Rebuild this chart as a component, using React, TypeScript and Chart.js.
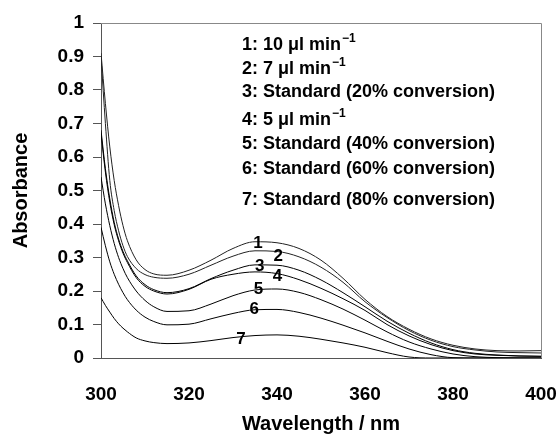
import React, { useEffect, useRef } from "react";
import { Chart, registerables } from "chart.js";

Chart.register(...registerables);

// Wavelength grid (nm)
const wavelengths = [300, 301, 302, 303, 304, 305, 306, 308, 310, 312, 315, 320, 325, 330, 335, 340, 345, 350, 355, 360, 365, 370, 375, 380, 385, 390, 395, 400];

// Absorbance series
const curve1 = [0.91, 0.76, 0.63, 0.53, 0.455, 0.395, 0.35, 0.293, 0.264, 0.251, 0.247, 0.262, 0.292, 0.327, 0.347, 0.344, 0.327, 0.292, 0.238, 0.175, 0.124, 0.086, 0.057, 0.038, 0.027, 0.022, 0.021, 0.022];
const curve2 = [0.9, 0.7, 0.53, 0.44, 0.38, 0.335, 0.303, 0.267, 0.249, 0.241, 0.238, 0.25, 0.277, 0.304, 0.32, 0.318, 0.302, 0.271, 0.226, 0.168, 0.121, 0.082, 0.053, 0.034, 0.024, 0.018, 0.016, 0.015];
const curve3 = [0.68, 0.565, 0.475, 0.405, 0.355, 0.318, 0.29, 0.245, 0.219, 0.204, 0.195, 0.207, 0.237, 0.262, 0.278, 0.277, 0.262, 0.233, 0.195, 0.153, 0.11, 0.074, 0.045, 0.025, 0.014, 0.009, 0.006, 0.005];
const curve4 = [0.67, 0.555, 0.465, 0.398, 0.35, 0.313, 0.285, 0.24, 0.214, 0.2, 0.191, 0.205, 0.235, 0.25, 0.257, 0.252, 0.234, 0.208, 0.177, 0.142, 0.1, 0.066, 0.04, 0.022, 0.012, 0.008, 0.006, 0.005];
const curve5 = [0.54, 0.46, 0.395, 0.342, 0.3, 0.267, 0.24, 0.2, 0.172, 0.153, 0.139, 0.141, 0.161, 0.186, 0.203, 0.206, 0.196, 0.174, 0.146, 0.113, 0.078, 0.048, 0.027, 0.012, 0.004, 0.001, 0, 0];
const curve6 = [0.39, 0.335, 0.287, 0.25, 0.22, 0.195, 0.174, 0.143, 0.122, 0.109, 0.099, 0.101, 0.117, 0.133, 0.144, 0.145, 0.136, 0.119, 0.098, 0.075, 0.05, 0.027, 0.01, 0.001, 0, 0, 0, 0];
const curve7 = [0.18, 0.157, 0.137, 0.118, 0.102, 0.089, 0.078, 0.06, 0.051, 0.046, 0.043, 0.045, 0.052, 0.061, 0.067, 0.069, 0.065, 0.056, 0.045, 0.032, 0.016, 0.003, 0, 0, 0, 0, 0, 0];

const allCurves = [curve1, curve2, curve3, curve4, curve5, curve6, curve7];

// Curve number labels (text + anchor in data coordinates)
const curveLabels = ["1", "2", "3", "4", "5", "6", "7"];
const curveLabelWl = [335.7, 340.3, 336.1, 340.1, 335.8, 334.8, 331.8];
const curveLabelAbs = [0.341, 0.303, 0.273, 0.244, 0.204, 0.144, 0.055];

// Key text
const keyText = [
  "1: 10 \u03bcl min",
  "2: 7 \u03bcl min",
  "3: Standard (20% conversion)",
  "4: 5 \u03bcl min",
  "5: Standard (40% conversion)",
  "6: Standard (60% conversion)",
  "7: Standard (80% conversion)",
];
const keySup = ["\u22121", "\u22121", "", "\u22121", "", "", ""];

const xTitle = "Wavelength / nm";
const yTitle = "Absorbance";

const FONT = '"Liberation Sans", Arial, Helvetica, sans-serif';

export default function App() {
  const ref = useRef<HTMLCanvasElement | null>(null);

  useEffect(() => {
    if (!ref.current) return;

    const overlay = {
      id: "overlay",
      afterDraw(chart: any) {
        const { ctx, chartArea: ca, scales } = chart;
        ctx.save();
        // frame (top and right)
        ctx.strokeStyle = "#888";
        ctx.lineWidth = 1;
        ctx.beginPath();
        ctx.moveTo(ca.left, Math.round(ca.top) + 0.5);
        ctx.lineTo(Math.round(ca.right) + 0.5, Math.round(ca.top) + 0.5);
        ctx.lineTo(Math.round(ca.right) + 0.5, ca.bottom);
        ctx.stroke();

        // curve number labels
        ctx.fillStyle = "#000";
        ctx.font = `bold 17px ${FONT}`;
        ctx.textAlign = "center";
        ctx.textBaseline = "middle";
        curveLabels.forEach((t, i) => {
          const px = scales.x.getPixelForValue(curveLabelWl[i]);
          const py = scales.y.getPixelForValue(curveLabelAbs[i]);
          ctx.fillText(t, px, py);
        });

        // key text
        const keyX = ca.left + 141;
        const baselines = [50, 74, 97, 125, 149, 174, 205];
        ctx.textAlign = "left";
        ctx.textBaseline = "alphabetic";
        keyText.forEach((t, i) => {
          ctx.font = `bold 18px ${FONT}`;
          ctx.fillText(t, keyX, baselines[i]);
          if (keySup[i]) {
            const w = ctx.measureText(t).width;
            ctx.font = `bold 12px ${FONT}`;
            ctx.fillText(keySup[i], keyX + w + 1, baselines[i] - 8);
          }
        });
        ctx.restore();
      },
    };

    const chart = new Chart(ref.current, {
      type: "line",
      data: {
        datasets: allCurves.map((c, i) => ({
          label: curveLabels[i],
          data: c.map((v, j) => ({ x: wavelengths[j], y: v })),
          borderColor: i < 2 ? "#222" : "#000",
          borderWidth: 1,
          pointRadius: 0,
          fill: false,
          cubicInterpolationMode: "monotone" as const,
        })),
      },
      options: {
        animation: false,
        responsive: false,
        devicePixelRatio: 1,
        layout: { padding: { left: 0, top: 23, right: 19, bottom: 0 } },
        plugins: {
          legend: { display: false },
          tooltip: { enabled: false },
        },
        scales: {
          x: {
            type: "linear",
            min: 300,
            max: 400,
            ticks: {
              stepSize: 20,
              color: "#000",
              font: { family: FONT, size: 19, weight: "bold" },
              padding: 25,
              maxRotation: 0,
            },
            grid: { display: true, drawOnChartArea: false, drawTicks: false },
            border: { display: true, color: "#555", width: 1 },
            title: {
              display: true,
              text: xTitle,
              color: "#000",
              font: { family: FONT, size: 20, weight: "bold", lineHeight: 1 },
              padding: { top: 0, bottom: 1 },
            },
            afterFit: (s: any) => {
              s.height = 77;
              s.paddingLeft = 0;
              s.paddingRight = 0;
            },
          },
          y: {
            type: "linear",
            min: 0,
            max: 1,
            ticks: {
              stepSize: 0.1,
              color: "#000",
              font: { family: FONT, size: 19, weight: "bold" },
              padding: 9,
              callback: (v: any) => {
                const r = Math.round(Number(v) * 10) / 10;
                if (r === 0) return "0";
                if (r === 1) return "1";
                return r.toFixed(1);
              },
            },
            grid: { display: true, drawOnChartArea: false, drawTicks: true, tickLength: 8, color: "#555" },
            border: { display: true, color: "#555", width: 1 },
            title: {
              display: true,
              text: yTitle,
              color: "#000",
              font: { family: FONT, size: 20, weight: "bold", lineHeight: 1 },
              padding: { top: 11, bottom: 0 },
            },
            afterFit: (s: any) => {
              s.width = 101;
              s.paddingTop = 0;
              s.paddingBottom = 0;
            },
          },
        },
      } as any,
      plugins: [overlay],
    });

    return () => chart.destroy();
  }, []);

  return (
    <div style={{ position: "fixed", left: 0, top: 0, width: 560, height: 435, background: "#fff" }}>
      <canvas ref={ref} width={560} height={435} style={{ width: 560, height: 435, display: "block" }} />
    </div>
  );
}
